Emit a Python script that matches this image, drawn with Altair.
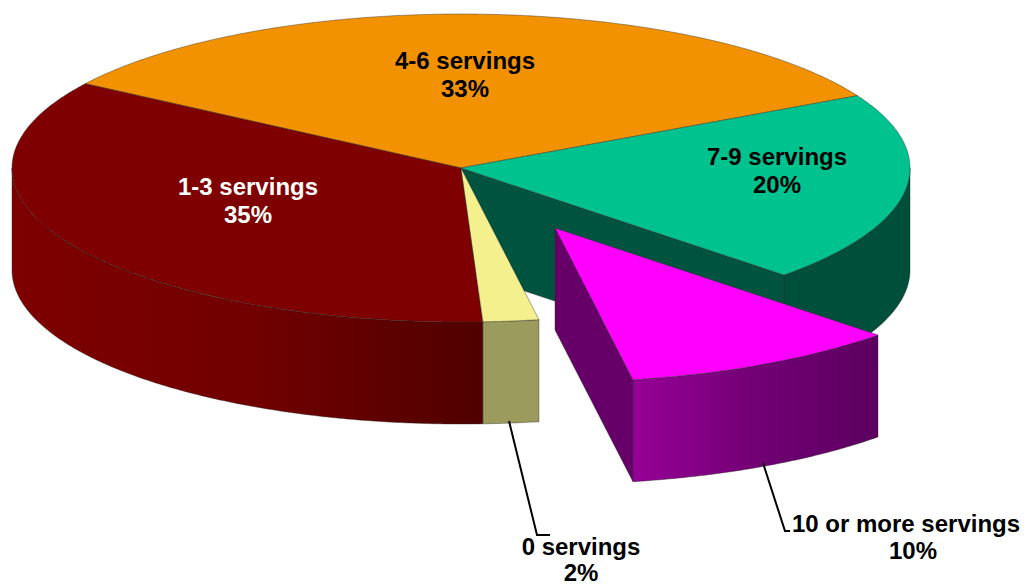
import math
import altair as alt
import pandas as pd

# values, clockwise from the 4-6 / 7-9 boundary
categories = ["7-9 servings", "10 or more servings", "0 servings", "1-3 servings", "4-6 servings"]
shares = [20, 10, 2, 35, 33]

label_name_x = [777, 906, 581, 248, 465]
label_pct_x = [777, 913, 581, 248, 465]
label_name_y = [158, 525, 548, 188, 62]
label_pct_y = [186, 552, 574, 216, 90]
label_colors = ["black", "black", "black", "white", "black"]

leader_0_x = [509, 537, 550]
leader_0_y = [421, 535, 535]
leader_10_x = [763, 785, 790]
leader_10_y = [463, 531, 531]

# layout of the tilted pie, in page pixels
CX, CY, RX, RY, DEPTH = 461, 168, 449, 154, 102
START = 62
EXPLODE = (94, 60)
W, H = 1013, 577
EDGE = "#2a2a2a"

x_enc = alt.X("x:Q", axis=None, scale=alt.Scale(domain=[8, 8 + W]))
y_enc = alt.Y("y:Q", axis=None, scale=alt.Scale(domain=[8 + H, 8]))


def pt(deg, dx=0, dy=0):
    t = math.radians(deg)
    return (CX + dx + RX * math.sin(t), CY + dy - RY * math.cos(t))


def arc(a, b, dx=0, dy=0):
    n = max(2, int(abs(b - a) * 2))
    return [pt(a + (b - a) * i / n, dx, dy) for i in range(n + 1)]


def face(points, fill, stroke=EDGE, width=0.6):
    points = list(points) + [points[0]]
    df = pd.DataFrame({"x": [p[0] for p in points], "y": [p[1] for p in points],
                       "i": range(len(points))})
    return alt.Chart(df).mark_line(fill=fill, stroke=stroke, strokeWidth=width, strokeOpacity=0.7).encode(
        x=x_enc, y=y_enc, order="i:Q")


def grad(*stops):
    return alt.LinearGradient(
        gradient="linear", x1=0, x2=1, y1=0, y2=0,
        stops=[alt.GradientStop(color=c, offset=o) for o, c in stops])


def wall(a, b, fill, dx=0, dy=0):
    top = arc(a, b, dx, dy)
    bottom = [(x, y + DEPTH) for x, y in reversed(top)]
    return face(top + bottom, fill)


def cut(p, q, fill):
    return face([p, q, (q[0], q[1] + DEPTH), (p[0], p[1] + DEPTH)], fill)


def wedge(a, b, fill, dx=0, dy=0):
    return face([(CX + dx, CY + dy)] + arc(a, b, dx, dy), fill)


# slice boundaries follow from the shares
angles = [START]
for s in shares:
    angles.append(angles[-1] + s * 3.6)
a79, a10, a0, a13, a46, a_end = angles
dx, dy = EXPLODE

layers = [
    # side faces of the pie body
    cut((CX, CY), pt(a10), "#00533f"),
    wall(90, a10, "#004f3b"),
    wall(a13, 270, grad((0, "#7e0000"), (0.5, "#720000"), (1, "#500000"))),
    wall(a0, a13, "#9b9b5e"),
    # top faces
    wedge(a46, a_end, "#f39200"),
    wedge(a79, a10, "#00c28f"),
    wedge(a13, a46, "#7e0000"),
    wedge(a0, a13, "#f5f08e"),
    # exploded slice
    cut((CX + dx, CY + dy), pt(a0, dx, dy), "#660068"),
    wall(a10, a0, grad((0, "#960096"), (0.5, "#720074"), (1, "#5c0060")), dx, dy),
    wedge(a10, a0, "#ff00ff", dx, dy),
]

for lx, ly in ((leader_0_x, leader_0_y), (leader_10_x, leader_10_y)):
    df = pd.DataFrame({"x": lx, "y": ly, "i": range(len(lx))})
    layers.append(alt.Chart(df).mark_line(color="black", strokeWidth=2).encode(
        x=x_enc, y=y_enc, order="i:Q"))

labels = pd.DataFrame({
    "x": label_name_x + label_pct_x,
    "y": label_name_y + label_pct_y,
    "text": categories + [f"{s}%" for s in shares],
    "c": label_colors * 2,
})
layers.append(alt.Chart(labels).mark_text(
    font="Liberation Sans", fontWeight="bold", fontSize=24, align="center", baseline="middle"
).encode(x=x_enc, y=y_enc, text="text:N", color=alt.Color("c:N", scale=None)))

chart = alt.layer(*layers).properties(
    width=W, height=H, padding=0, autosize=alt.AutoSizeParams(type="none")
).configure_view(stroke=None)

chart.save("out.html", embed_options={"renderer": "svg", "actions": False})
